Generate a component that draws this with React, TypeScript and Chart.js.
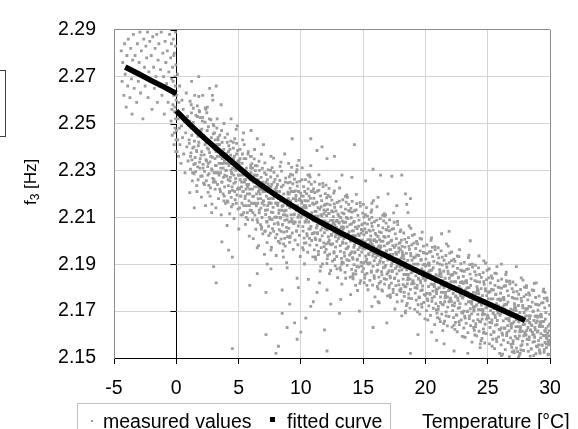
import React, { useEffect, useRef } from 'react';
import { Chart, registerables } from 'chart.js';

Chart.register(...registerables);

const FONT = '"Liberation Sans", Arial, sans-serif';

const xTickValues = [-5, 0, 5, 10, 15, 20, 25, 30];
const yTickValues = [2.15, 2.17, 2.19, 2.21, 2.23, 2.25, 2.27, 2.29];

const legendLabels = ['measured values', 'fitted curve'];
const xTitle = 'Temperature [°C]';

// fitted curve (two branches, below and above 0 °C)
const fittedColdTemp = [-4.1, -3, -2, -1, 0];
const fittedColdFreq = [2.2741, 2.2711, 2.2683, 2.2656, 2.2628];
const fittedWarmTemp = [0, 1, 2, 3, 4, 5, 6, 7, 8, 9, 10, 11, 12, 13, 14, 15, 16, 17, 18, 19, 20, 21, 22, 23, 24, 25, 26, 27, 28];
const fittedWarmFreq = [2.2554, 2.25, 2.245, 2.2403, 2.2358, 2.2313, 2.2268, 2.223, 2.2194, 2.216, 2.2127, 2.2095, 2.2067, 2.2039, 2.2012, 2.1985, 2.1958, 2.1932, 2.1906, 2.188, 2.1855, 2.183, 2.1805, 2.178, 2.1756, 2.1732, 2.1708, 2.1684, 2.166];

// measured values [temperature, frequency]
const measuredBelowZero = [
  [-4.42,2.281],[-4.35,2.268],[-4.3,2.276],[-4.21,2.262],[-4.15,2.284],[-4.1,2.271],[-4.02,2.257],[-3.96,2.279],[-3.9,2.266],[-3.85,2.286],[-3.78,2.273],[-3.72,2.261],[-3.66,2.282],[-3.6,2.269],[-3.55,2.254],[-3.5,2.277],
  [-3.44,2.288],[-3.38,2.265],[-3.31,2.279],[-3.25,2.272],[-3.18,2.259],[-3.12,2.284],[-3.05,2.268],[-2.98,2.276],[-2.92,2.289],[-2.86,2.263],[-2.8,2.281],[-2.74,2.27],[-2.68,2.252],[-2.61,2.286],[-2.55,2.274],[-2.5,2.266],
  [-2.44,2.283],[-2.38,2.278],[-2.31,2.289],[-2.26,2.261],[-2.2,2.272],[-2.13,2.285],[-2.07,2.268],[-2.01,2.279],[-1.95,2.256],[-1.89,2.287],[-1.82,2.274],[-1.76,2.265],[-1.7,2.282],[-1.63,2.27],[-1.57,2.288],[-1.52,2.259],
  [-1.46,2.277],[-1.4,2.284],[-1.34,2.266],[-1.27,2.273],[-1.21,2.289],[-1.15,2.262],[-1.08,2.28],[-1.02,2.27],[-0.96,2.254],[-0.9,2.285],[-0.84,2.276],[-0.78,2.267],[-0.72,2.281],[-0.66,2.259],[-0.6,2.272],[-0.54,2.288],
  [-0.48,2.264],[-0.45,2.278],[-0.42,2.251],[-0.39,2.284],[-0.36,2.269],[-0.33,2.245],[-0.3,2.274],[-0.27,2.258],[-0.24,2.286],[-0.21,2.262],[-0.18,2.241],[-0.16,2.28],[-0.14,2.255],[-0.12,2.27],[-0.1,2.248],[-0.08,2.266],[-0.06,2.283],[-0.05,2.252],[-0.03,2.275],[-0.02,2.243],[-0.01,2.26],[-0.04,2.238],[-0.07,2.289],[-0.11,2.257],[-0.15,2.246],[-0.2,2.279],[-0.26,2.268],[-0.35,2.256],
];

const measuredZeroToTen = [
  [0.02,2.247],[0.04,2.262],[0.06,2.238],[0.08,2.255],[0.1,2.271],[0.12,2.243],[0.15,2.252],[0.18,2.236],[0.21,2.259],[0.24,2.248],[0.27,2.266],[0.3,2.241],[0.34,2.254],[0.38,2.233],[0.42,2.249],[0.46,2.26],[0.5,2.244],[0.55,2.256],[0.6,2.237],[0.65,2.251],[0.7,2.229],[0.75,2.246],[0.8,2.263],[0.85,2.24],[0.9,2.253],[0.95,2.234],
  [1.03,2.243],[1.08,2.251],[1.14,2.236],[1.2,2.258],[1.25,2.245],[1.31,2.229],[1.37,2.249],[1.42,2.24],[1.48,2.262],[1.53,2.233],[1.58,2.246],[1.64,2.238],[1.7,2.253],[1.75,2.226],[1.81,2.242],[1.86,2.255],[1.92,2.235],[1.97,2.247],[1.23,2.268],[1.66,2.221],[1.89,2.231],[1.44,2.214],
  [2.04,2.238],[2.09,2.251],[2.15,2.231],[2.2,2.245],[2.26,2.224],[2.31,2.241],[2.37,2.256],[2.43,2.234],[2.48,2.247],[2.54,2.228],[2.6,2.239],[2.65,2.252],[2.71,2.219],[2.76,2.236],[2.82,2.244],[2.87,2.23],[2.93,2.26],[2.98,2.225],[2.35,2.215],[2.68,2.265],[2.12,2.262],[2.57,2.233],[2.84,2.212],[2.4,2.242],
  [3.02,2.249],[3.35,2.244],[3.68,2.242],[3.13,2.243],[3.81,2.239],[3.47,2.241],[3.24,2.241],[3.92,2.237],[3.58,2.238],[3.07,2.24],[3.39,2.238],[3.73,2.236],[3.18,2.238],[3.86,2.234],[3.52,2.236],[3.29,2.236],[3.95,2.233],[3.63,2.233],[3.11,2.235],[3.44,2.233],[3.77,2.231],[3.21,2.232],[3.89,2.228],[3.55,2.229],[3.33,2.229],[3.04,2.229],[3.66,2.225],[3.15,2.225],[3.49,2.222],[3.83,2.217],[3.27,2.241],[3.61,2.233],
  [4.57,2.242],[4.09,2.242],[4.84,2.237],[4.31,2.239],[4.66,2.236],[4.19,2.238],[4.94,2.234],[4.42,2.235],[4.05,2.237],[4.71,2.233],[4.26,2.235],[4.88,2.231],[4.37,2.233],[4.13,2.233],[4.79,2.23],[4.52,2.231],[4.23,2.232],[4.98,2.228],[4.45,2.229],[4.62,2.228],[4.01,2.23],[4.34,2.227],[4.75,2.225],[4.16,2.226],[4.91,2.222],[4.48,2.223],[4.69,2.221],[4.28,2.221],[4.82,2.216],[4.11,2.217],[4.59,2.235],[4.39,2.23],
  [5.76,2.237],[5.44,2.235],[5.12,2.235],[5.97,2.231],[5.29,2.233],[5.63,2.231],[5.05,2.233],[5.51,2.23],[5.85,2.228],[5.22,2.23],[5.68,2.228],[5.38,2.228],[5.93,2.226],[5.16,2.228],[5.57,2.226],[5.81,2.224],[5.03,2.228],[5.46,2.225],[5.72,2.223],[5.25,2.225],[5.6,2.222],[5.89,2.22],[5.34,2.221],[5.08,2.222],[5.54,2.219],[5.19,2.219],[5.87,2.215],[5.41,2.215],[5.7,2.212],[5.31,2.211],[5.99,2.229],[5.14,2.226],
  [6.02,2.236],[6.35,2.232],[6.68,2.23],[6.13,2.231],[6.81,2.227],[6.47,2.228],[6.24,2.228],[6.92,2.225],[6.58,2.226],[6.07,2.227],[6.39,2.226],[6.73,2.223],[6.18,2.225],[6.86,2.222],[6.52,2.223],[6.29,2.223],[6.95,2.221],[6.63,2.221],[6.11,2.222],[6.44,2.22],[6.77,2.218],[6.21,2.219],[6.89,2.216],[6.55,2.216],[6.33,2.216],[6.04,2.216],[6.66,2.213],[6.15,2.212],[6.49,2.209],[6.83,2.205],[6.27,2.228],[6.61,2.221],
  [7.57,2.23],[7.09,2.229],[7.84,2.225],[7.31,2.226],[7.66,2.224],[7.19,2.225],[7.94,2.222],[7.42,2.223],[7.05,2.224],[7.71,2.221],[7.26,2.222],[7.88,2.219],[7.37,2.221],[7.13,2.221],[7.79,2.218],[7.52,2.218],[7.23,2.219],[7.98,2.216],[7.45,2.216],[7.62,2.216],[7.01,2.217],[7.34,2.215],[7.75,2.212],[7.16,2.213],[7.91,2.21],[7.48,2.21],[7.69,2.209],[7.28,2.208],[7.82,2.204],[7.11,2.204],[7.59,2.223],[7.39,2.218],
  [8.76,2.225],[8.44,2.223],[8.12,2.224],[8.97,2.22],[8.29,2.221],[8.63,2.22],[8.05,2.221],[8.51,2.218],[8.85,2.217],[8.22,2.218],[8.68,2.217],[8.38,2.217],[8.93,2.215],[8.16,2.216],[8.57,2.215],[8.81,2.213],[8.03,2.216],[8.46,2.213],[8.72,2.211],[8.25,2.213],[8.6,2.211],[8.89,2.209],[8.34,2.21],[8.08,2.21],[8.54,2.207],[8.19,2.207],[8.87,2.204],[8.41,2.204],[8.7,2.201],[8.31,2.199],[8.99,2.218],[8.14,2.215],
  [9.02,2.233],[9.35,2.228],[9.68,2.225],[9.13,2.225],[9.81,2.221],[9.47,2.221],[9.24,2.221],[9.92,2.218],[9.58,2.218],[9.07,2.22],[9.39,2.218],[9.73,2.215],[9.18,2.217],[9.86,2.214],[9.52,2.214],[9.29,2.215],[9.95,2.212],[9.63,2.213],[9.11,2.214],[9.44,2.211],[9.77,2.21],[9.21,2.211],[9.89,2.208],[9.55,2.208],[9.33,2.208],[9.04,2.208],[9.66,2.204],[9.15,2.202],[9.49,2.215],[9.83,2.211],[9.27,2.221],[9.61,2.217],
];

const measuredTenToTwenty = [
  [10.57,2.228],[10.09,2.226],[10.84,2.221],[10.31,2.221],[10.66,2.219],[10.19,2.219],[10.94,2.216],[10.42,2.217],[10.05,2.217],[10.71,2.215],[10.26,2.215],[10.88,2.212],[10.37,2.214],[10.13,2.214],[10.79,2.21],[10.52,2.211],[10.23,2.211],[10.98,2.209],[10.45,2.209],[10.62,2.208],[10.01,2.21],[10.34,2.208],[10.75,2.205],[10.16,2.206],[10.91,2.203],[10.48,2.203],[10.69,2.201],[10.28,2.199],[10.82,2.211],[10.11,2.211],[10.59,2.217],[10.39,2.215],
  [11.76,2.2245],[11.44,2.2215],[11.12,2.2205],[11.97,2.2155],[11.29,2.2165],[11.63,2.2145],[11.05,2.2155],[11.51,2.2135],[11.85,2.2115],[11.22,2.2125],[11.68,2.2105],[11.38,2.2105],[11.93,2.2085],[11.16,2.2105],[11.57,2.2075],[11.81,2.2075],[11.03,2.2085],[11.46,2.2075],[11.72,2.2055],[11.25,2.2055],[11.6,2.2045],[11.89,2.2035],[11.34,2.2035],[11.08,2.2035],[11.54,2.2005],[11.19,2.2005],[11.87,2.1975],[11.41,2.1955],[11.7,2.2085],[11.31,2.2065],[11.99,2.2125],[11.14,2.2125],
  [12.02,2.2237],[12.35,2.2187],[12.68,2.2157],[12.13,2.2157],[12.81,2.2127],[12.47,2.2127],[12.24,2.2117],[12.92,2.2087],[12.58,2.2087],[12.07,2.2107],[12.39,2.2087],[12.73,2.2067],[12.18,2.2077],[12.86,2.2057],[12.52,2.2057],[12.29,2.2057],[12.95,2.2027],[12.63,2.2037],[12.11,2.2047],[12.44,2.2027],[12.77,2.2017],[12.21,2.2017],[12.89,2.1997],[12.55,2.1987],[12.33,2.1987],[12.04,2.1987],[12.66,2.1947],[12.15,2.1937],[12.49,2.2067],[12.83,2.2027],[12.27,2.2117],[12.61,2.2077],
  [13.57,2.2189],[13.09,2.2169],[13.84,2.2129],[13.31,2.2119],[13.66,2.2099],[13.19,2.2099],[13.94,2.2069],[13.42,2.2079],[13.05,2.2079],[13.71,2.2059],[13.26,2.2059],[13.88,2.2039],[13.37,2.2049],[13.13,2.2049],[13.79,2.2019],[13.52,2.2029],[13.23,2.2019],[13.98,2.1999],[13.45,2.2009],[13.62,2.1989],[13.01,2.2009],[13.34,2.1989],[13.75,2.1969],[13.16,2.1979],[13.91,2.1939],[13.48,2.1949],[13.69,2.1919],[13.28,2.1899],[13.82,2.2029],[13.11,2.2019],[13.59,2.2079],[13.39,2.2059],
  [14.76,2.2162],[14.44,2.2132],[14.12,2.2122],[14.97,2.2072],[14.29,2.2082],[14.63,2.2062],[14.05,2.2072],[14.51,2.2052],[14.85,2.2032],[14.22,2.2042],[14.68,2.2022],[14.38,2.2022],[14.93,2.2002],[14.16,2.2022],[14.57,2.1992],[14.81,2.1992],[14.03,2.2002],[14.46,2.1992],[14.72,2.1972],[14.25,2.1972],[14.6,2.1962],[14.89,2.1952],[14.34,2.1952],[14.08,2.1952],[14.54,2.1922],[14.19,2.1922],[14.87,2.1892],[14.41,2.1872],[14.7,2.2002],[14.31,2.1982],[14.99,2.2042],[14.14,2.2042],
  [15.02,2.2155],[15.35,2.2105],[15.68,2.2075],[15.13,2.2075],[15.81,2.2045],[15.47,2.2045],[15.24,2.2035],[15.92,2.2005],[15.58,2.2005],[15.07,2.2025],[15.39,2.2005],[15.73,2.1985],[15.18,2.1995],[15.86,2.1975],[15.52,2.1975],[15.29,2.1975],[15.95,2.1945],[15.63,2.1955],[15.11,2.1965],[15.44,2.1945],[15.77,2.1935],[15.21,2.1935],[15.89,2.1915],[15.55,2.1905],[15.33,2.1905],[15.04,2.1905],[15.66,2.1865],[15.15,2.1855],[15.49,2.1985],[15.83,2.1945],[15.27,2.2035],[15.61,2.1995],
  [16.57,2.2108],[16.09,2.2088],[16.84,2.2048],[16.31,2.2038],[16.66,2.2018],[16.19,2.2018],[16.94,2.1988],[16.42,2.1998],[16.05,2.1998],[16.71,2.1978],[16.26,2.1978],[16.88,2.1958],[16.37,2.1968],[16.13,2.1968],[16.79,2.1938],[16.52,2.1948],[16.23,2.1938],[16.98,2.1918],[16.45,2.1928],[16.62,2.1908],[16.01,2.1928],[16.34,2.1908],[16.75,2.1888],[16.16,2.1898],[16.91,2.1858],[16.48,2.1868],[16.69,2.1838],[16.28,2.1818],[16.82,2.1948],[16.11,2.1938],[16.59,2.1998],[16.39,2.1978],
  [17.76,2.2082],[17.44,2.2052],[17.12,2.2042],[17.97,2.1992],[17.29,2.2002],[17.63,2.1982],[17.05,2.1992],[17.51,2.1972],[17.85,2.1952],[17.22,2.1962],[17.68,2.1942],[17.38,2.1942],[17.93,2.1922],[17.16,2.1942],[17.57,2.1912],[17.81,2.1912],[17.03,2.1922],[17.46,2.1912],[17.72,2.1892],[17.25,2.1892],[17.6,2.1882],[17.89,2.1872],[17.34,2.1872],[17.08,2.1872],[17.54,2.1842],[17.19,2.1842],[17.87,2.1812],[17.41,2.1792],[17.7,2.1922],[17.31,2.1902],[17.99,2.1962],[17.14,2.1962],
  [18.02,2.2046],[18.35,2.2006],[18.68,2.1976],[18.13,2.1976],[18.81,2.1946],[18.47,2.1946],[18.24,2.1936],[18.92,2.1916],[18.58,2.1916],[18.07,2.1926],[18.39,2.1906],[18.73,2.1896],[18.18,2.1906],[18.86,2.1886],[18.52,2.1886],[18.29,2.1886],[18.95,2.1866],[18.63,2.1856],[18.11,2.1876],[18.44,2.1856],[18.77,2.1836],[18.21,2.1836],[18.89,2.1816],[18.55,2.1816],[18.33,2.1806],[18.04,2.1796],[18.66,2.1756],[18.15,2.1936],[18.49,2.1876],[18.83,2.1936],[18.27,2.1856],[18.61,2.1886],
  [19.57,2.201],[19.09,2.199],[19.84,2.195],[19.31,2.194],[19.66,2.192],[19.19,2.193],[19.94,2.19],[19.42,2.19],[19.05,2.19],[19.71,2.188],[19.26,2.188],[19.88,2.187],[19.37,2.187],[19.13,2.188],[19.79,2.185],[19.52,2.186],[19.23,2.185],[19.98,2.183],[19.45,2.184],[19.62,2.182],[19.01,2.183],[19.34,2.181],[19.75,2.179],[19.16,2.18],[19.91,2.177],[19.48,2.176],[19.69,2.173],[19.28,2.19],[19.82,2.184],[19.11,2.193],[19.59,2.183],[19.39,2.187],
];

const measuredTwentyToThirty = [
  [20.76,2.1975],[20.44,2.1955],[20.12,2.1945],[20.97,2.1905],[20.29,2.1905],[20.63,2.1885],[20.05,2.1895],[20.51,2.1875],[20.85,2.1855],[20.22,2.1865],[20.68,2.1845],[20.38,2.1855],[20.93,2.1835],[20.16,2.1855],[20.57,2.1835],[20.81,2.1825],[20.03,2.1835],[20.46,2.1815],[20.72,2.1805],[20.25,2.1805],[20.6,2.1785],[20.89,2.1775],[20.34,2.1775],[20.08,2.1775],[20.54,2.1755],[20.19,2.1745],[20.87,2.1705],[20.41,2.1875],[20.7,2.1815],[20.31,2.1895],[20.99,2.1795],[20.14,2.1855],
  [21.02,2.197],[21.35,2.193],[21.68,2.19],[21.13,2.19],[21.81,2.187],[21.47,2.187],[21.24,2.186],[21.92,2.184],[21.58,2.184],[21.07,2.185],[21.39,2.183],[21.73,2.182],[21.18,2.183],[21.86,2.181],[21.52,2.181],[21.29,2.181],[21.95,2.179],[21.63,2.178],[21.11,2.18],[21.44,2.178],[21.77,2.176],[21.21,2.176],[21.89,2.174],[21.55,2.174],[21.33,2.173],[21.04,2.172],[21.66,2.168],[21.15,2.186],[21.49,2.18],[21.83,2.186],[21.27,2.178],[21.61,2.181],
  [22.57,2.1935],[22.09,2.1915],[22.84,2.1875],[22.31,2.1865],[22.66,2.1845],[22.19,2.1855],[22.94,2.1825],[22.42,2.1825],[22.05,2.1825],[22.71,2.1805],[22.26,2.1805],[22.88,2.1795],[22.37,2.1795],[22.13,2.1805],[22.79,2.1775],[22.52,2.1785],[22.23,2.1775],[22.98,2.1755],[22.45,2.1765],[22.62,2.1745],[22.01,2.1755],[22.34,2.1735],[22.75,2.1715],[22.16,2.1725],[22.91,2.1695],[22.48,2.1685],[22.69,2.1655],[22.28,2.1825],[22.82,2.1765],[22.11,2.1855],[22.59,2.1755],[22.39,2.1795],
  [23.76,2.19],[23.44,2.188],[23.12,2.187],[23.97,2.183],[23.29,2.183],[23.63,2.181],[23.05,2.182],[23.51,2.18],[23.85,2.178],[23.22,2.179],[23.68,2.177],[23.38,2.178],[23.93,2.176],[23.16,2.178],[23.57,2.176],[23.81,2.175],[23.03,2.176],[23.46,2.174],[23.72,2.173],[23.25,2.173],[23.6,2.171],[23.89,2.17],[23.34,2.17],[23.08,2.17],[23.54,2.168],[23.19,2.167],[23.87,2.163],[23.41,2.18],[23.7,2.174],[23.31,2.182],[23.99,2.172],[23.14,2.178],
  [24.02,2.1896],[24.35,2.1856],[24.68,2.1826],[24.13,2.1826],[24.81,2.1796],[24.47,2.1796],[24.24,2.1786],[24.92,2.1766],[24.58,2.1766],[24.07,2.1776],[24.39,2.1756],[24.73,2.1746],[24.18,2.1756],[24.86,2.1736],[24.52,2.1736],[24.29,2.1736],[24.95,2.1716],[24.63,2.1706],[24.11,2.1726],[24.44,2.1706],[24.77,2.1686],[24.21,2.1686],[24.89,2.1666],[24.55,2.1666],[24.33,2.1656],[24.04,2.1646],[24.66,2.1606],[24.15,2.1786],[24.49,2.1726],[24.83,2.1786],[24.27,2.1706],[24.61,2.1736],
  [25.57,2.1862],[25.09,2.1842],[25.84,2.1802],[25.31,2.1792],[25.66,2.1772],[25.19,2.1782],[25.94,2.1752],[25.42,2.1752],[25.05,2.1752],[25.71,2.1732],[25.26,2.1732],[25.88,2.1722],[25.37,2.1722],[25.13,2.1732],[25.79,2.1702],[25.52,2.1712],[25.23,2.1702],[25.98,2.1682],[25.45,2.1692],[25.62,2.1672],[25.01,2.1682],[25.34,2.1662],[25.75,2.1642],[25.16,2.1652],[25.91,2.1622],[25.48,2.1612],[25.69,2.1582],[25.28,2.1752],[25.82,2.1692],[25.11,2.1782],[25.59,2.1682],[25.39,2.1722],
  [26.76,2.1828],[26.44,2.1808],[26.12,2.1798],[26.97,2.1758],[26.29,2.1758],[26.63,2.1738],[26.05,2.1748],[26.51,2.1728],[26.85,2.1708],[26.22,2.1718],[26.68,2.1698],[26.38,2.1708],[26.93,2.1688],[26.16,2.1708],[26.57,2.1688],[26.81,2.1678],[26.03,2.1688],[26.46,2.1668],[26.72,2.1658],[26.25,2.1658],[26.6,2.1638],[26.89,2.1628],[26.34,2.1628],[26.08,2.1628],[26.54,2.1608],[26.19,2.1598],[26.87,2.1558],[26.41,2.1728],[26.7,2.1668],[26.31,2.1748],[26.99,2.1648],[26.14,2.1708],
  [27.02,2.1824],[27.35,2.1784],[27.68,2.1754],[27.13,2.1754],[27.81,2.1724],[27.47,2.1724],[27.24,2.1714],[27.92,2.1694],[27.58,2.1694],[27.07,2.1704],[27.39,2.1684],[27.73,2.1674],[27.18,2.1684],[27.86,2.1664],[27.52,2.1664],[27.29,2.1664],[27.95,2.1644],[27.63,2.1634],[27.11,2.1654],[27.44,2.1634],[27.77,2.1614],[27.21,2.1614],[27.89,2.1594],[27.55,2.1594],[27.33,2.1584],[27.04,2.1574],[27.66,2.1534],[27.15,2.1714],[27.49,2.1654],[27.83,2.1714],[27.27,2.1634],[27.61,2.1664],
  [28.57,2.179],[28.09,2.177],[28.84,2.173],[28.31,2.172],[28.66,2.17],[28.19,2.171],[28.94,2.168],[28.42,2.168],[28.05,2.168],[28.71,2.166],[28.26,2.166],[28.88,2.165],[28.37,2.165],[28.13,2.166],[28.79,2.163],[28.52,2.164],[28.23,2.163],[28.98,2.161],[28.45,2.162],[28.62,2.16],[28.01,2.161],[28.34,2.159],[28.75,2.157],[28.16,2.158],[28.91,2.155],[28.48,2.154],[28.69,2.151],[28.28,2.168],[28.82,2.162],[28.11,2.171],[28.59,2.161],[28.39,2.165],
  [29.76,2.1756],[29.44,2.1736],[29.12,2.1726],[29.97,2.1686],[29.29,2.1686],[29.63,2.1666],[29.05,2.1676],[29.51,2.1656],[29.85,2.1636],[29.22,2.1646],[29.68,2.1626],[29.38,2.1636],[29.93,2.1616],[29.16,2.1636],[29.57,2.1616],[29.81,2.1606],[29.03,2.1616],[29.46,2.1596],[29.72,2.1586],[29.25,2.1586],[29.6,2.1566],[29.89,2.1556],[29.34,2.1556],[29.08,2.1556],[29.54,2.1536],[29.19,2.1526],[29.87,2.1516],[29.41,2.1656],[29.7,2.1596],[29.31,2.1676],[29.99,2.1576],[29.14,2.1636],
];

// wider spread of the measured cloud around the curve
const measuredWideLow = [
  [1.11,2.2595],[1.69,2.2575],[1.37,2.2565],[1.84,2.2555],[1.22,2.2545],[1.58,2.2535],[1.93,2.2525],[1.46,2.2425],[1.05,2.2415],[1.77,2.2405],[1.32,2.2395],[1.63,2.2385],[1.18,2.2375],[1.99,2.2365],[1.51,2.2355],[1.26,2.2345],[1.87,2.2335],[1.41,2.2325],[1.72,2.2315],[1.14,2.2305],[1.55,2.2295],[1.96,2.2275],[1.29,2.2255],[1.64,2.2235],[1.08,2.2205],[1.81,2.2615],[1.43,2.2285],[1.36,2.2505],[1.74,2.2445],[1.2,2.2485],
  [2.45,2.2546],[2.12,2.2526],[2.78,2.2516],[2.31,2.2506],[2.96,2.2496],[2.58,2.2486],[2.04,2.2476],[2.67,2.2376],[2.23,2.2366],[2.89,2.2356],[2.38,2.2346],[2.71,2.2336],[2.15,2.2326],[2.52,2.2316],[2.84,2.2306],[2.27,2.2296],[2.63,2.2286],[2.08,2.2276],[2.93,2.2266],[2.41,2.2256],[2.19,2.2246],[2.74,2.2226],[2.55,2.2206],[2.02,2.2186],[2.86,2.2156],[2.33,2.2566],[2.61,2.2236],[2.97,2.2456],[2.49,2.2396],[2.17,2.2436],
  [3.83,2.25],[3.26,2.248],[3.64,2.247],[3.07,2.246],[3.49,2.245],[3.91,2.244],[3.35,2.243],[3.72,2.233],[3.14,2.232],[3.57,2.231],[3.98,2.23],[3.21,2.229],[3.43,2.228],[3.79,2.227],[3.03,2.226],[3.66,2.225],[3.31,2.224],[3.88,2.223],[3.12,2.222],[3.54,2.221],[3.76,2.22],[3.39,2.218],[3.95,2.216],[3.18,2.214],[3.61,2.211],[3.28,2.252],[3.85,2.219],[3.47,2.241],[3.69,2.235],[3.09,2.239],
  [4.11,2.2455],[4.69,2.2435],[4.37,2.2425],[4.84,2.2415],[4.22,2.2405],[4.58,2.2395],[4.93,2.2385],[4.46,2.2285],[4.05,2.2275],[4.77,2.2265],[4.32,2.2255],[4.63,2.2245],[4.18,2.2235],[4.99,2.2225],[4.51,2.2215],[4.26,2.2205],[4.87,2.2195],[4.41,2.2185],[4.72,2.2175],[4.14,2.2165],[4.55,2.2155],[4.96,2.2135],[4.29,2.2115],[4.64,2.2095],[4.08,2.2065],[4.81,2.2475],[4.43,2.2145],[4.36,2.2365],[4.74,2.2305],[4.2,2.2345],
  [5.45,2.241],[5.12,2.239],[5.78,2.238],[5.31,2.237],[5.96,2.236],[5.58,2.235],[5.04,2.234],[5.67,2.224],[5.23,2.223],[5.89,2.222],[5.38,2.221],[5.71,2.22],[5.15,2.219],[5.52,2.218],[5.84,2.217],[5.27,2.216],[5.63,2.215],[5.08,2.214],[5.93,2.213],[5.41,2.212],[5.19,2.211],[5.74,2.209],[5.55,2.207],[5.02,2.205],[5.86,2.202],[5.33,2.243],[5.61,2.21],[5.97,2.232],[5.49,2.226],[5.17,2.23],
  [6.83,2.2369],[6.26,2.2349],[6.64,2.2339],[6.07,2.2329],[6.49,2.2319],[6.91,2.2309],[6.35,2.2299],[6.72,2.2199],[6.14,2.2189],[6.57,2.2179],[6.98,2.2169],[6.21,2.2159],[6.43,2.2149],[6.79,2.2139],[6.03,2.2129],[6.66,2.2119],[6.31,2.2109],[6.88,2.2099],[6.12,2.2089],[6.54,2.2079],[6.76,2.2069],[6.39,2.2049],[6.95,2.2029],[6.18,2.2009],[6.61,2.1979],[6.28,2.2389],[6.85,2.2059],[6.47,2.2279],[6.69,2.2219],[6.09,2.2259],
  [7.11,2.2332],[7.69,2.2312],[7.37,2.2302],[7.84,2.2292],[7.22,2.2282],[7.58,2.2272],[7.93,2.2262],[7.46,2.2162],[7.05,2.2152],[7.77,2.2142],[7.32,2.2132],[7.63,2.2122],[7.18,2.2112],[7.99,2.2102],[7.51,2.2092],[7.26,2.2082],[7.87,2.2072],[7.41,2.2062],[7.72,2.2052],[7.14,2.2042],[7.55,2.2032],[7.96,2.2012],[7.29,2.1992],[7.64,2.1972],[7.08,2.1942],[7.81,2.2352],[7.43,2.2022],[7.36,2.2242],[7.74,2.2182],[7.2,2.2222],
  [8.45,2.2297],[8.12,2.2277],[8.78,2.2267],[8.31,2.2257],[8.96,2.2247],[8.58,2.2237],[8.04,2.2227],[8.67,2.2127],[8.23,2.2117],[8.89,2.2107],[8.38,2.2097],[8.71,2.2087],[8.15,2.2077],[8.52,2.2067],[8.84,2.2057],[8.27,2.2047],[8.63,2.2037],[8.08,2.2027],[8.93,2.2017],[8.41,2.2007],[8.19,2.1997],[8.74,2.1977],[8.55,2.1957],[8.02,2.1937],[8.86,2.1907],[8.33,2.2317],[8.61,2.1987],[8.97,2.2207],[8.49,2.2147],[8.17,2.2187],
];

const measuredWideMid = [
  [9.83,2.2343],[9.26,2.2313],[9.64,2.2293],[9.07,2.2273],[9.49,2.2263],[9.91,2.2253],[9.35,2.2243],[9.72,2.2233],[9.14,2.2223],[9.57,2.2213],[9.98,2.2203],[9.21,2.2083],[9.43,2.2073],[9.79,2.2063],[9.03,2.2053],[9.66,2.2043],[9.31,2.2033],[9.88,2.2023],[9.12,2.2013],[9.54,2.2003],[9.76,2.1983],[9.39,2.1963],[9.95,2.1933],[9.18,2.2283],[9.61,2.2193],[9.28,2.2093],[9.85,2.2173],[9.47,2.2113],[9.69,2.2303],[9.09,2.1993],
  [10.11,2.2311],[10.69,2.2281],[10.37,2.2261],[10.84,2.2241],[10.22,2.2231],[10.58,2.2221],[10.93,2.2211],[10.46,2.2201],[10.05,2.2191],[10.77,2.2181],[10.32,2.2171],[10.63,2.2051],[10.18,2.2041],[10.99,2.2031],[10.51,2.2021],[10.26,2.2011],[10.87,2.2001],[10.41,2.1991],[10.72,2.1981],[10.14,2.1971],[10.55,2.1951],[10.96,2.1931],[10.29,2.1901],[10.64,2.2251],[10.08,2.2161],[10.81,2.2061],[10.43,2.2141],[10.36,2.2081],[10.74,2.2271],[10.2,2.1961],
  [11.45,2.2281],[11.12,2.2251],[11.78,2.2231],[11.31,2.2211],[11.96,2.2201],[11.58,2.2191],[11.04,2.2181],[11.67,2.2171],[11.23,2.2161],[11.89,2.2151],[11.38,2.2141],[11.71,2.2021],[11.15,2.2011],[11.52,2.2001],[11.84,2.1991],[11.27,2.1981],[11.63,2.1971],[11.08,2.1961],[11.93,2.1951],[11.41,2.1941],[11.19,2.1921],[11.74,2.1901],[11.55,2.1871],[11.02,2.2221],[11.86,2.2131],[11.33,2.2031],[11.61,2.2111],[11.97,2.2051],[11.49,2.2241],[11.17,2.1931],
  [12.83,2.2253],[12.26,2.2223],[12.64,2.2203],[12.07,2.2183],[12.49,2.2173],[12.91,2.2163],[12.35,2.2153],[12.72,2.2143],[12.14,2.2133],[12.57,2.2123],[12.98,2.2113],[12.21,2.1993],[12.43,2.1983],[12.79,2.1973],[12.03,2.1963],[12.66,2.1953],[12.31,2.1943],[12.88,2.1933],[12.12,2.1923],[12.54,2.1913],[12.76,2.1893],[12.39,2.1873],[12.95,2.1843],[12.18,2.2193],[12.61,2.2103],[12.28,2.2003],[12.85,2.2083],[12.47,2.2023],[12.69,2.2213],[12.09,2.1903],
  [13.11,2.2225],[13.69,2.2195],[13.37,2.2175],[13.84,2.2155],[13.22,2.2145],[13.58,2.2135],[13.93,2.2125],[13.46,2.2115],[13.05,2.2105],[13.77,2.2095],[13.32,2.2085],[13.63,2.1965],[13.18,2.1955],[13.99,2.1945],[13.51,2.1935],[13.26,2.1925],[13.87,2.1915],[13.41,2.1905],[13.72,2.1895],[13.14,2.1885],[13.55,2.1865],[13.96,2.1845],[13.29,2.1815],[13.64,2.2165],[13.08,2.2075],[13.81,2.1975],[13.43,2.2055],[13.36,2.1995],[13.74,2.2185],[13.2,2.1875],
  [14.45,2.2198],[14.12,2.2168],[14.78,2.2148],[14.31,2.2128],[14.96,2.2118],[14.58,2.2108],[14.04,2.2098],[14.67,2.2088],[14.23,2.2078],[14.89,2.2068],[14.38,2.2058],[14.71,2.1938],[14.15,2.1928],[14.52,2.1918],[14.84,2.1908],[14.27,2.1898],[14.63,2.1888],[14.08,2.1878],[14.93,2.1868],[14.41,2.1858],[14.19,2.1838],[14.74,2.1818],[14.55,2.1788],[14.02,2.2138],[14.86,2.2048],[14.33,2.1948],[14.61,2.2028],[14.97,2.1968],[14.49,2.2158],[14.17,2.1848],
  [15.83,2.2171],[15.26,2.2141],[15.64,2.2121],[15.07,2.2101],[15.49,2.2091],[15.91,2.2081],[15.35,2.2071],[15.72,2.2061],[15.14,2.2051],[15.57,2.2041],[15.98,2.2031],[15.21,2.1911],[15.43,2.1901],[15.79,2.1891],[15.03,2.1881],[15.66,2.1871],[15.31,2.1861],[15.88,2.1851],[15.12,2.1841],[15.54,2.1831],[15.76,2.1811],[15.39,2.1791],[15.95,2.1761],[15.18,2.2111],[15.61,2.2021],[15.28,2.1921],[15.85,2.2001],[15.47,2.1941],[15.69,2.2131],[15.09,2.1821],
  [16.11,2.2145],[16.69,2.2115],[16.37,2.2095],[16.84,2.2075],[16.22,2.2065],[16.58,2.2055],[16.93,2.2045],[16.46,2.2035],[16.05,2.2025],[16.77,2.2015],[16.32,2.2005],[16.63,2.1885],[16.18,2.1875],[16.99,2.1865],[16.51,2.1855],[16.26,2.1845],[16.87,2.1835],[16.41,2.1825],[16.72,2.1815],[16.14,2.1805],[16.55,2.1785],[16.96,2.1765],[16.29,2.1735],[16.64,2.2085],[16.08,2.1995],[16.81,2.1895],[16.43,2.1975],[16.36,2.1915],[16.74,2.2105],[16.2,2.1795],
  [17.45,2.2119],[17.12,2.2089],[17.78,2.2069],[17.31,2.2049],[17.96,2.2039],[17.58,2.2029],[17.04,2.2019],[17.67,2.2009],[17.23,2.1999],[17.89,2.1989],[17.38,2.1979],[17.71,2.1859],[17.15,2.1849],[17.52,2.1839],[17.84,2.1829],[17.27,2.1819],[17.63,2.1809],[17.08,2.1799],[17.93,2.1789],[17.41,2.1779],[17.19,2.1759],[17.74,2.1739],[17.55,2.1709],[17.02,2.2059],[17.86,2.1969],[17.33,2.1869],[17.61,2.1949],[17.97,2.1889],[17.49,2.2079],[17.17,2.1769],
];

const measuredWideHigh = [
  [18.83,2.2053],[18.26,2.2033],[18.64,2.2013],[18.07,2.2003],[18.49,2.1993],[18.91,2.1983],[18.35,2.1973],[18.72,2.1963],[18.14,2.1953],[18.57,2.1833],[18.98,2.1823],[18.21,2.1813],[18.43,2.1803],[18.79,2.1793],[18.03,2.1783],[18.66,2.1773],[18.31,2.1763],[18.88,2.1753],[18.12,2.1743],[18.54,2.1733],[18.76,2.1713],[18.39,2.1693],[18.95,2.2023],[18.18,2.1943],[18.61,2.1843],[18.28,2.1923],[18.85,2.1863],[18.47,2.1723],[18.69,2.2063],[18.09,2.1903],
  [19.11,2.2027],[19.69,2.2007],[19.37,2.1987],[19.84,2.1977],[19.22,2.1967],[19.58,2.1957],[19.93,2.1947],[19.46,2.1937],[19.05,2.1927],[19.77,2.1807],[19.32,2.1797],[19.63,2.1787],[19.18,2.1777],[19.99,2.1767],[19.51,2.1757],[19.26,2.1747],[19.87,2.1737],[19.41,2.1727],[19.72,2.1717],[19.14,2.1707],[19.55,2.1687],[19.96,2.1667],[19.29,2.1997],[19.64,2.1917],[19.08,2.1817],[19.81,2.1897],[19.43,2.1837],[19.36,2.1697],[19.74,2.2037],[19.2,2.1877],
  [20.45,2.2002],[20.12,2.1982],[20.78,2.1962],[20.31,2.1952],[20.96,2.1942],[20.58,2.1932],[20.04,2.1922],[20.67,2.1912],[20.23,2.1902],[20.89,2.1782],[20.38,2.1772],[20.71,2.1762],[20.15,2.1752],[20.52,2.1742],[20.84,2.1732],[20.27,2.1722],[20.63,2.1712],[20.08,2.1702],[20.93,2.1692],[20.41,2.1682],[20.19,2.1662],[20.74,2.1642],[20.55,2.1972],[20.02,2.1892],[20.86,2.1792],[20.33,2.1872],[20.61,2.1812],[20.97,2.1672],[20.49,2.2012],[20.17,2.1852],
  [21.83,2.1977],[21.26,2.1957],[21.64,2.1937],[21.07,2.1927],[21.49,2.1917],[21.91,2.1907],[21.35,2.1897],[21.72,2.1887],[21.14,2.1877],[21.57,2.1757],[21.98,2.1747],[21.21,2.1737],[21.43,2.1727],[21.79,2.1717],[21.03,2.1707],[21.66,2.1697],[21.31,2.1687],[21.88,2.1677],[21.12,2.1667],[21.54,2.1657],[21.76,2.1637],[21.39,2.1617],[21.95,2.1947],[21.18,2.1867],[21.61,2.1767],[21.28,2.1847],[21.85,2.1787],[21.47,2.1647],[21.69,2.1987],[21.09,2.1827],
  [22.11,2.1952],[22.69,2.1932],[22.37,2.1912],[22.84,2.1902],[22.22,2.1892],[22.58,2.1882],[22.93,2.1872],[22.46,2.1862],[22.05,2.1852],[22.77,2.1732],[22.32,2.1722],[22.63,2.1712],[22.18,2.1702],[22.99,2.1692],[22.51,2.1682],[22.26,2.1672],[22.87,2.1662],[22.41,2.1652],[22.72,2.1642],[22.14,2.1632],[22.55,2.1612],[22.96,2.1592],[22.29,2.1922],[22.64,2.1842],[22.08,2.1742],[22.81,2.1822],[22.43,2.1762],[22.36,2.1622],[22.74,2.1962],[22.2,2.1802],
  [23.45,2.1928],[23.12,2.1908],[23.78,2.1888],[23.31,2.1878],[23.96,2.1868],[23.58,2.1858],[23.04,2.1848],[23.67,2.1838],[23.23,2.1828],[23.89,2.1708],[23.38,2.1698],[23.71,2.1688],[23.15,2.1678],[23.52,2.1668],[23.84,2.1658],[23.27,2.1648],[23.63,2.1638],[23.08,2.1628],[23.93,2.1618],[23.41,2.1608],[23.19,2.1588],[23.74,2.1568],[23.55,2.1898],[23.02,2.1818],[23.86,2.1718],[23.33,2.1798],[23.61,2.1738],[23.97,2.1598],[23.49,2.1938],[23.17,2.1778],
  [24.83,2.1904],[24.26,2.1884],[24.64,2.1864],[24.07,2.1854],[24.49,2.1844],[24.91,2.1834],[24.35,2.1824],[24.72,2.1814],[24.14,2.1804],[24.57,2.1684],[24.98,2.1674],[24.21,2.1664],[24.43,2.1654],[24.79,2.1644],[24.03,2.1634],[24.66,2.1624],[24.31,2.1614],[24.88,2.1604],[24.12,2.1594],[24.54,2.1584],[24.76,2.1564],[24.39,2.1544],[24.95,2.1874],[24.18,2.1794],[24.61,2.1694],[24.28,2.1774],[24.85,2.1714],[24.47,2.1574],[24.69,2.1914],[24.09,2.1754],
  [25.11,2.188],[25.69,2.186],[25.37,2.184],[25.84,2.183],[25.22,2.182],[25.58,2.181],[25.93,2.18],[25.46,2.179],[25.05,2.178],[25.77,2.166],[25.32,2.165],[25.63,2.164],[25.18,2.163],[25.99,2.162],[25.51,2.161],[25.26,2.16],[25.87,2.159],[25.41,2.158],[25.72,2.157],[25.14,2.156],[25.55,2.154],[25.96,2.152],[25.29,2.185],[25.64,2.177],[25.08,2.167],[25.81,2.175],[25.43,2.169],[25.36,2.155],[25.74,2.189],[25.2,2.173],
  [26.45,2.1856],[26.12,2.1836],[26.78,2.1816],[26.31,2.1806],[26.96,2.1796],[26.58,2.1786],[26.04,2.1776],[26.67,2.1766],[26.23,2.1756],[26.89,2.1636],[26.38,2.1626],[26.71,2.1616],[26.15,2.1606],[26.52,2.1596],[26.84,2.1586],[26.27,2.1576],[26.63,2.1566],[26.08,2.1556],[26.93,2.1546],[26.41,2.1536],[26.19,2.1516],[26.74,2.1506],[26.55,2.1826],[26.02,2.1746],[26.86,2.1646],[26.33,2.1726],[26.61,2.1666],[26.97,2.1526],[26.49,2.1866],[26.17,2.1706],
  [27.83,2.1832],[27.26,2.1812],[27.64,2.1792],[27.07,2.1782],[27.49,2.1772],[27.91,2.1762],[27.35,2.1752],[27.72,2.1742],[27.14,2.1732],[27.57,2.1612],[27.98,2.1602],[27.21,2.1592],[27.43,2.1582],[27.79,2.1572],[27.03,2.1562],[27.66,2.1552],[27.31,2.1542],[27.88,2.1532],[27.12,2.1522],[27.54,2.1512],[27.76,2.1557],[27.39,2.1527],[27.95,2.1802],[27.18,2.1722],[27.61,2.1622],[27.28,2.1702],[27.85,2.1642],[27.47,2.1502],[27.69,2.1842],[27.09,2.1682],
  [28.11,2.1808],[28.69,2.1788],[28.37,2.1768],[28.84,2.1758],[28.22,2.1748],[28.58,2.1738],[28.93,2.1728],[28.46,2.1718],[28.05,2.1708],[28.77,2.1588],[28.32,2.1578],[28.63,2.1568],[28.18,2.1558],[28.99,2.1548],[28.51,2.1538],[28.26,2.1528],[28.87,2.1518],[28.41,2.1508],[28.72,2.1598],[28.14,2.1618],[28.55,2.1638],[28.96,2.1658],[28.29,2.1778],[28.64,2.1698],[28.08,2.1598],[28.81,2.1678],[28.43,2.1618],[28.36,2.1668],[28.74,2.1818],[28.2,2.1658],
  [29.45,2.1784],[29.12,2.1764],[29.78,2.1744],[29.31,2.1734],[29.96,2.1724],[29.58,2.1714],[29.04,2.1704],[29.67,2.1694],[29.23,2.1684],[29.89,2.1564],[29.38,2.1554],[29.71,2.1544],[29.15,2.1534],[29.52,2.1524],[29.84,2.1514],[29.27,2.1604],[29.63,2.1614],[29.08,2.1574],[29.93,2.1594],[29.41,2.1634],[29.19,2.1654],[29.74,2.1584],[29.55,2.1754],[29.02,2.1674],[29.86,2.1574],[29.33,2.1654],[29.61,2.1594],[29.97,2.1644],[29.49,2.1794],[29.17,2.1634],
];

const measuredScattered = [
  [3.66,2.1995],[4.2,2.196],[4.5,2.193],[3.0,2.189],[3.2,2.182],[5.9,2.181],[7.3,2.19],[7.6,2.188],[7.2,2.178],[8.5,2.179],[6.5,2.186],[8.9,2.1885],[9.1,2.173],[8.5,2.169],[8.9,2.163],[9.5,2.165],[10,2.161],[9.7,2.158],[8.2,2.155],[8.0,2.152],[7.2,2.16],[4.5,2.154],[10.4,2.167],[10.8,2.172],[11.3,2.178],[11.9,2.162],[12.1,2.153],[13.1,2.169],[14.7,2.17],[15.8,2.163],[16.9,2.165],[18.1,2.168],[9.7,2.184],[9.8,2.18],[11.0,2.174],[12.4,2.173],[13.2,2.175],[12.1,2.179],[14.0,2.177],[15.7,2.172],[16.2,2.174],[18.4,2.17],[14.4,2.181],[11.5,2.182],[10.6,2.1835],[7.6,2.196],[6.5,2.197],[8.6,2.193],
  [11.6,2.189],[12.3,2.186],[12.9,2.188],[13.6,2.184],[14.2,2.186],[14.8,2.183],[15.3,2.181],[15.9,2.184],[16.5,2.179],[17.1,2.181],[17.7,2.177],[18.3,2.178],[13.3,2.191],[14.5,2.189],[16.1,2.187],[12.7,2.192],
  [9.3,2.2435],[10.8,2.2435],[11.3,2.2385],[12.1,2.235],[12.7,2.236],[11.7,2.24],[14.3,2.241],[10.8,2.232],[9.7,2.232],[8.7,2.237],[15.8,2.2305],[16.4,2.228],[17.3,2.2275],[18.1,2.228],[15.2,2.2255],[14.1,2.227],[13.3,2.228],[18.4,2.22],[17.0,2.22],[16.2,2.2185],[15.7,2.216],[17.7,2.215],[18.6,2.212],[16.8,2.211],[15.7,2.21],[6.5,2.2435],[6.0,2.247],[7.6,2.236],[8.4,2.2335],[7.0,2.241],
  [2.9,2.262],[3.6,2.258],[4.4,2.252],[4.9,2.249],[3.2,2.266],[1.8,2.27],[2.5,2.257],[5.4,2.246],
  [18.8,2.218],[18.5,2.2155],[21.3,2.203],[21.9,2.204],[23.6,2.2],[24.3,2.1935],[25.1,2.188],[26.1,2.19],[27.3,2.189],[26.5,2.183],[28.9,2.182],[29.6,2.178],[28.1,2.18],
  [18.8,2.152],[21.5,2.156],[22.3,2.153],[23.4,2.152],[24.4,2.156],[26.1,2.151],[27.1,2.153],[19.4,2.16],[20.5,2.161],[20.9,2.1575],[23.1,2.159],[22.3,2.164],[21.2,2.1655],[24.7,2.161],[27.6,2.152],[29.7,2.156],[29.2,2.152],
];

const overlayPlugin = {
  id: 'overlay',
  afterDatasetsDraw(chart: any) {
    const { ctx, scales } = chart;
    const xs = scales.x;
    const ys = scales.y;
    const x0 = Math.round(xs.getPixelForValue(0)) + 0.5;
    ctx.save();
    ctx.strokeStyle = '#000';
    ctx.lineWidth = 1;
    yTickValues.forEach((v) => {
      const py = Math.round(ys.getPixelForValue(v)) + 0.5;
      ctx.beginPath();
      ctx.moveTo(x0 - 6, py);
      ctx.lineTo(x0, py);
      ctx.stroke();
    });
    ctx.restore();
  },
  afterDraw(chart: any) {
    const { ctx } = chart;
    ctx.save();
    // partial frame at left edge
    ctx.strokeStyle = '#404040';
    ctx.lineWidth = 1;
    ctx.strokeRect(-2, 70.5, 7.5, 66);

    // y-axis title f3 [Hz]
    ctx.fillStyle = '#000';
    ctx.textAlign = 'left';
    ctx.textBaseline = 'alphabetic';
    ctx.translate(36, 205);
    ctx.rotate(-Math.PI / 2);
    ctx.font = `17px ${FONT}`;
    ctx.fillText('f', 0, 0);
    let w = ctx.measureText('f').width;
    ctx.font = `12px ${FONT}`;
    ctx.fillText('3', w, 3);
    w += ctx.measureText('3').width;
    ctx.font = `17px ${FONT}`;
    ctx.fillText(' [Hz]', w, 0);
    ctx.restore();

    // legend box
    ctx.save();
    ctx.strokeStyle = '#c0c0c0';
    ctx.lineWidth = 1;
    ctx.strokeRect(77.5, 403.5, 313, 40);
    ctx.fillStyle = '#9c9c9c';
    ctx.fillRect(91, 420, 2, 2);
    ctx.fillStyle = '#000';
    ctx.fillRect(270, 417, 5, 5);
    ctx.font = `19.5px ${FONT}`;
    ctx.textAlign = 'left';
    ctx.textBaseline = 'alphabetic';
    ctx.fillText(legendLabels[0], 103, 428);
    ctx.fillText(legendLabels[1], 287, 428);
    ctx.fillText(xTitle, 422, 428);
    ctx.restore();
  },
};

export default function App() {
  const canvasRef = useRef<HTMLCanvasElement | null>(null);

  useEffect(() => {
    document.body.style.margin = '0';
    const canvas = canvasRef.current;
    if (!canvas) return;

    const toPoints = (rows: number[][]) => rows.map((r) => ({ x: r[0], y: r[1] }));
    const measured = [
      ...toPoints(measuredBelowZero),
      ...toPoints(measuredZeroToTen),
      ...toPoints(measuredTenToTwenty),
      ...toPoints(measuredTwentyToThirty),
      ...toPoints(measuredWideLow),
      ...toPoints(measuredWideMid),
      ...toPoints(measuredWideHigh),
      ...toPoints(measuredScattered),
    ];
    const fitted: { x: number; y: number | null }[] = [
      ...fittedColdTemp.map((t, i) => ({ x: t, y: fittedColdFreq[i] })),
      { x: 0, y: null },
      ...fittedWarmTemp.map((t, i) => ({ x: t, y: fittedWarmFreq[i] })),
    ];

    const chart = new Chart(canvas, {
      type: 'scatter',
      data: {
        datasets: [
          {
            label: legendLabels[1],
            data: fitted as any,
            showLine: true,
            borderColor: '#000',
            backgroundColor: '#000',
            borderWidth: 5.5,
            pointRadius: 0,
            spanGaps: false,
            order: 0,
          },
          {
            label: legendLabels[0],
            data: measured,
            pointStyle: 'rect',
            pointRadius: 2,
            pointBorderWidth: 0,
            backgroundColor: '#9c9c9c',
            borderColor: '#9c9c9c',
            order: 1,
          },
        ],
      },
      options: {
        animation: false,
        responsive: false,
        maintainAspectRatio: false,
        events: [],
        layout: { padding: { left: 0, right: 28, top: 19, bottom: 0 } },
        plugins: {
          legend: { display: false },
          tooltip: { enabled: false },
          title: { display: false },
        },
        scales: {
          x: {
            type: 'linear',
            min: -5,
            max: 30,
            afterBuildTicks: (axis: any) => {
              axis.ticks = xTickValues.map((v) => ({ value: v }));
            },
            afterFit: (axis: any) => {
              axis.height = 71;
            },
            ticks: {
              autoSkip: false,
              maxRotation: 0,
              padding: 13,
              color: '#000',
              font: { family: FONT, size: 19.5 },
              callback: (v: any) => String(v),
            },
            grid: {
              color: (c: any) => (c.tick && c.tick.value === 0 ? '#000' : c.tick && c.tick.value === 30 ? '#8c8c8c' : '#d4d4d4'),
              tickColor: '#000',
              tickLength: 6,
              lineWidth: 1,
            },
            border: { color: '#000', width: 1 },
          },
          y: {
            type: 'linear',
            min: 2.15,
            max: 2.29,
            afterBuildTicks: (axis: any) => {
              axis.ticks = yTickValues.map((v) => ({ value: v }));
            },
            afterFit: (axis: any) => {
              axis.width = 114;
            },
            ticks: {
              padding: 18,
              color: '#000',
              font: { family: FONT, size: 19.5 },
              callback: (v: any) => Number(v).toFixed(2),
            },
            grid: {
              color: (c: any) => (c.tick && c.tick.value === 2.29 ? '#8c8c8c' : '#d4d4d4'),
              drawTicks: false,
              lineWidth: 1,
            },
            border: { color: '#8c8c8c', width: 1 },
          },
        },
      },
      plugins: [overlayPlugin],
    });

    return () => {
      chart.destroy();
    };
  }, []);

  return (
    <div style={{ position: 'absolute', left: 0, top: 0, width: 578, height: 429 }}>
      <canvas ref={canvasRef} width={578} height={429} style={{ display: 'block' }} />
    </div>
  );
}
